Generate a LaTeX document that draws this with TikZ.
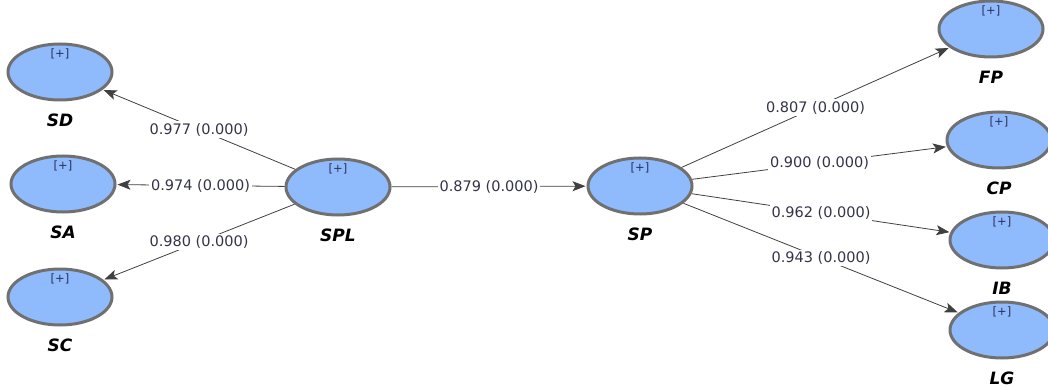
\documentclass[tikz,border=0pt]{standalone}
\usepackage{fontspec}
\setmainfont{DejaVu Sans}
\usetikzlibrary{arrows.meta, positioning, shapes.geometric}

\definecolor{lvfill}{RGB}{143,187,252}
\definecolor{lvdraw}{RGB}{112,112,112}
\definecolor{coeftext}{RGB}{52,52,72}
\definecolor{plustext}{RGB}{40,48,92}

\begin{document}
\begin{tikzpicture}[
    x=1pt, y=-1pt,
    construct/.style={
        ellipse,
        draw=lvdraw,
        line width=3pt,
        fill=lvfill,
        minimum width=104pt,
        minimum height=56pt,
        inner sep=0pt,
        label={[plus]north:{[+]}},
    },
    plus/.style={
        font=\fontsize{11.5}{13}\selectfont,
        text=plustext,
        anchor=north,
        yshift=-5pt,
        inner sep=1pt,
    },
    lvname/.style={
        font=\fontsize{17}{20}\selectfont\bfseries\itshape,
        inner sep=1pt,
        label distance=11pt,
    },
    loading/.style={
        draw=black!75,
        line width=0.8pt,
        shorten >=1pt,
        -{Stealth[length=13pt, width=10pt, inset=3pt]},
    },
    coef/.style={
        fill=white,
        inner sep=2pt,
        font=\fontsize{14.5}{17}\selectfont,
        text=coeftext,
        midway,
    }
]
    \useasboundingbox (0,0) rectangle (1048,387);

    % Second-order constructs
    \node[construct, label={[lvname]below:SPL}] (spl) at (338,187) {};
    \node[construct, label={[lvname]below:SP}] (sp) at (640,186) {};

    % Dimensions of SPL
    \node[construct, label={[lvname]below:SD}] (sd) at (60,72) {};
    \node[construct, label={[lvname]below:SA}] (sa) at (63,184) {};
    \node[construct, label={[lvname]below:SC}] (sc) at (60,297) {};

    % Dimensions of SP
    \node[construct, label={[lvname]below:FP}] (fp) at (991,29) {};
    \node[construct, label={[lvname]below:CP}] (cp) at (999,140) {};
    \node[construct, label={[lvname]below:IB}] (ib) at (1002,240) {};
    \node[construct, label={[lvname]below:LG}] (lg) at (1002,330) {};

    % Loadings
    \draw[loading] (spl) -- node[coef] {0.977 (0.000)} (sd);
    \draw[loading] (spl) -- node[coef] {0.974 (0.000)} (sa);
    \draw[loading] (spl) -- node[coef] {0.980 (0.000)} (sc);

    % Path coefficient
    \draw[loading] (spl) -- node[coef] {0.879 (0.000)} (sp);

    \draw[loading] (sp) -- node[coef] {0.807 (0.000)} (fp);
    \draw[loading] (sp) -- node[coef] {0.900 (0.000)} (cp);
    \draw[loading] (sp) -- node[coef] {0.962 (0.000)} (ib);
    \draw[loading] (sp) -- node[coef] {0.943 (0.000)} (lg);
\end{tikzpicture}
\end{document}
